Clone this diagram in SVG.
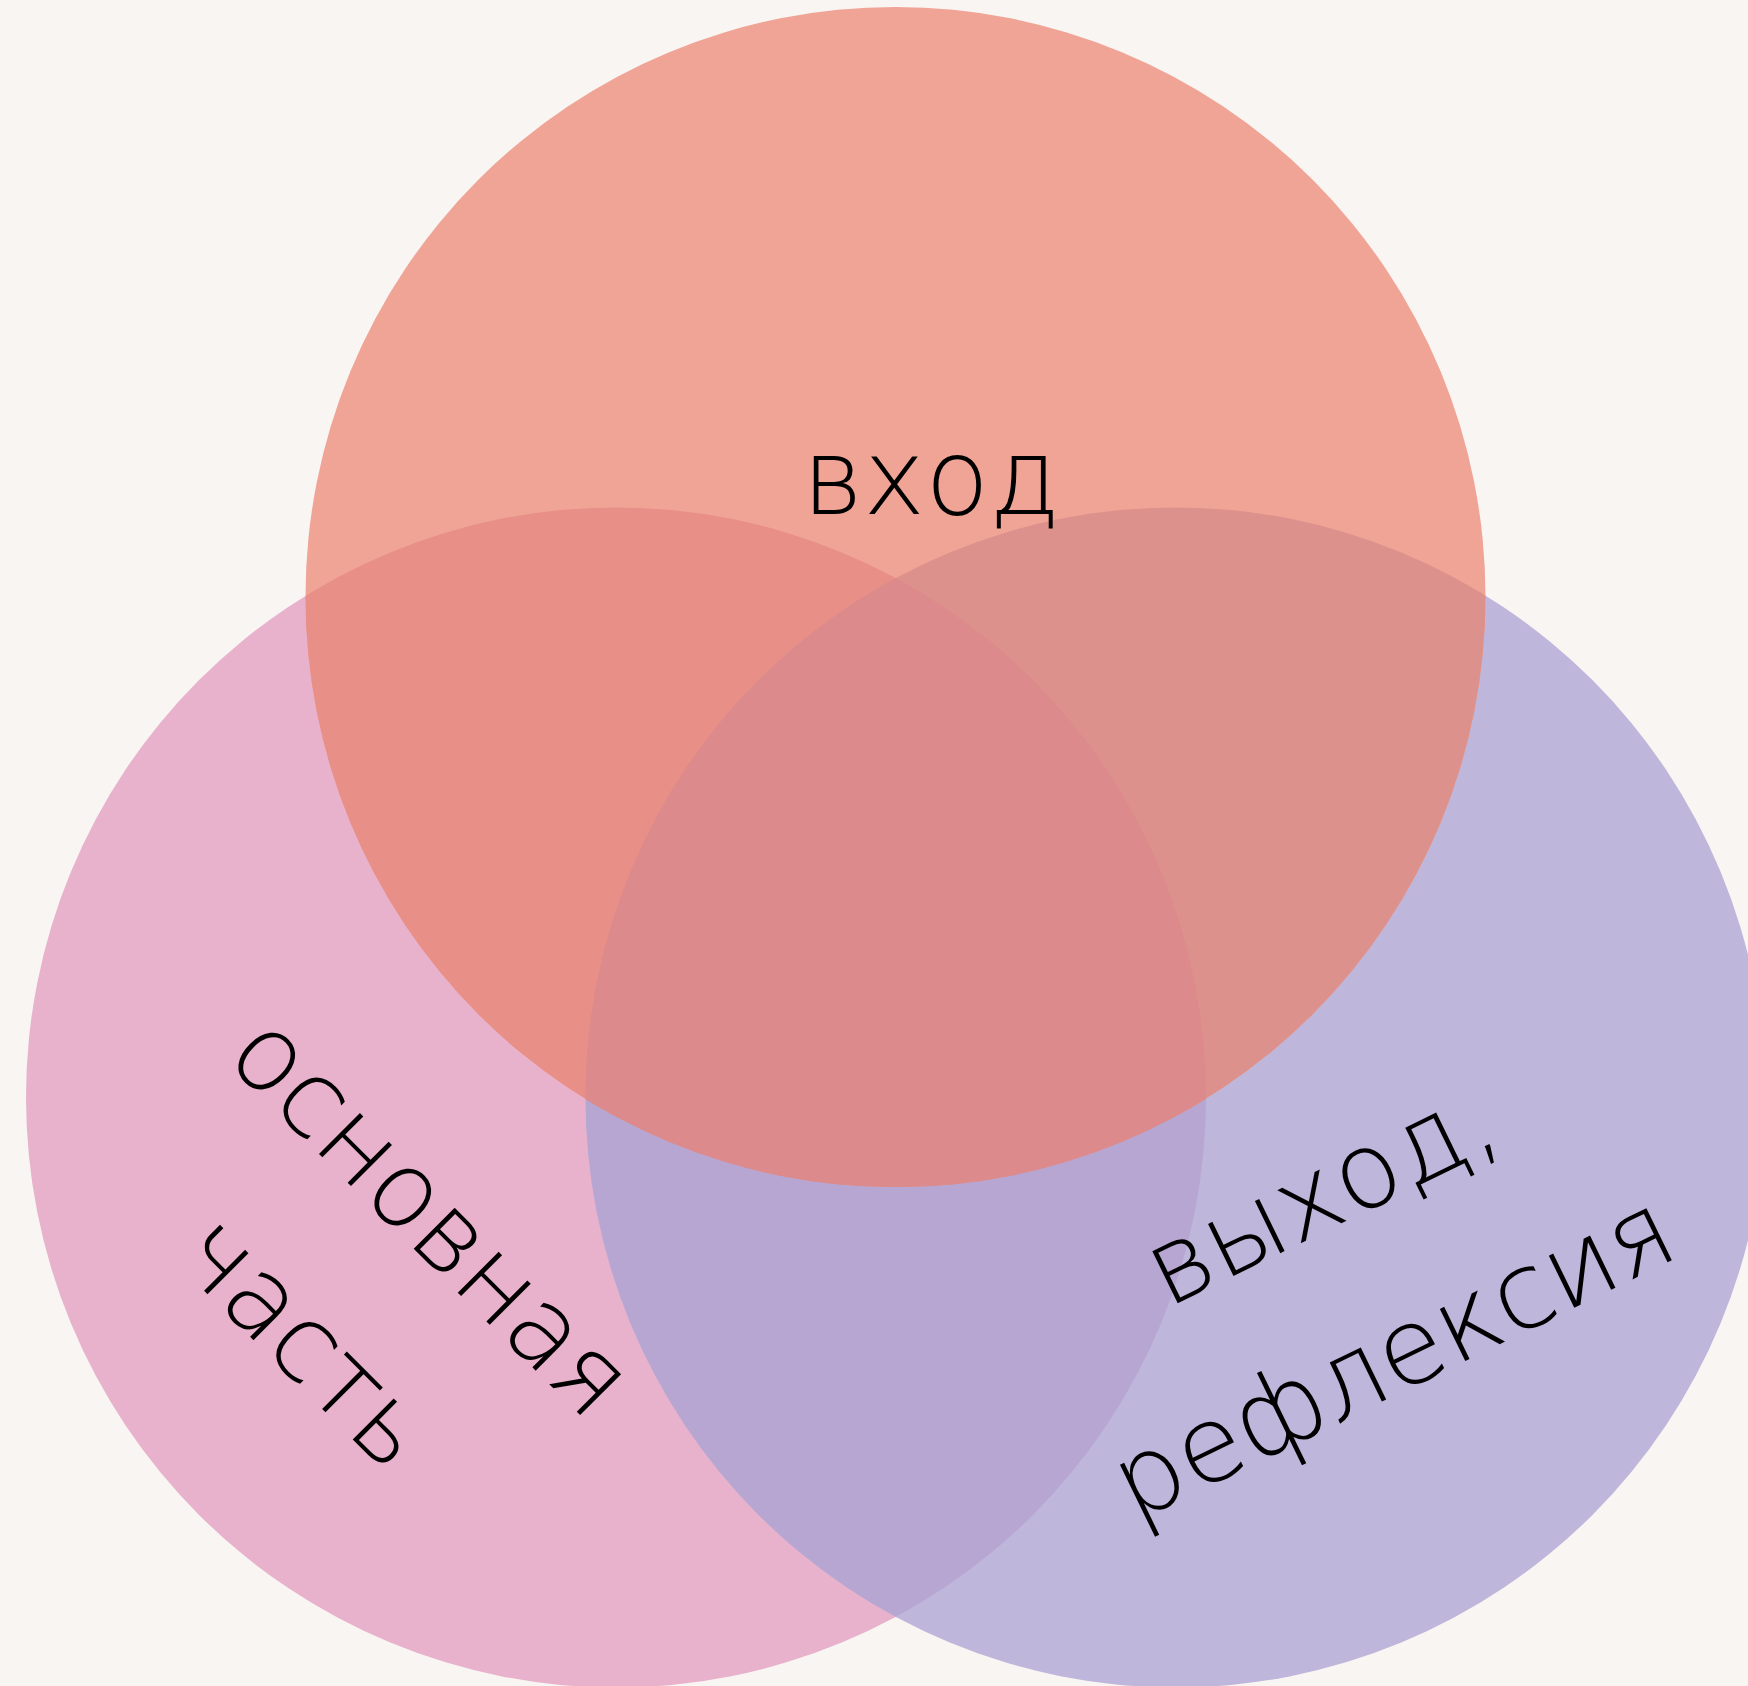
<svg xmlns="http://www.w3.org/2000/svg" width="1748" height="1686" viewBox="0 0 1748 1686">
<style>
.lbl{font-family:"DejaVu Sans","Liberation Sans",sans-serif;font-weight:200;font-size:106px;fill:#000;text-anchor:middle}
</style>
<defs>
<clipPath id="cT"><circle cx="895.5" cy="597" r="590"/></clipPath>
<clipPath id="cL"><circle cx="616" cy="1097.5" r="590"/></clipPath>
<clipPath id="cR"><circle cx="1175.5" cy="1097.5" r="590"/></clipPath>
</defs>
<rect width="1748" height="1686" fill="#F9F5F2"/>
<g id="circle-left"><circle cx="616" cy="1097.5" r="590" fill="#E8B2CC"/></g>
<g id="circle-right"><circle cx="1175.5" cy="1097.5" r="590" fill="#BEB7DB"/></g>
<g id="circle-top"><circle cx="895.5" cy="597" r="590" fill="#F0A496"/></g>
<g id="overlaps">
<g clip-path="url(#cL)"><circle cx="1175.5" cy="1097.5" r="590" fill="#B7A6D1"/></g>
<g clip-path="url(#cL)"><circle cx="895.5" cy="597" r="590" fill="#E88F88"/></g>
<g clip-path="url(#cR)"><circle cx="895.5" cy="597" r="590" fill="#DD918C"/></g>
<g clip-path="url(#cR)"><g clip-path="url(#cL)"><circle cx="895.5" cy="597" r="590" fill="#DC8A8B"/></g></g>
</g>
<g id="connectors"/>
<g id="label-vhod"><text class="lbl" x="931" y="514" textLength="258" lengthAdjust="spacingAndGlyphs">вход</text></g>
<g id="label-osnovnaya" transform="translate(406,1241) rotate(45)"><text class="lbl" x="0" y="0">основная</text><text class="lbl" x="0" y="178">часть</text></g>
<g id="label-vyhod" transform="translate(1336,1226) rotate(-26)"><text class="lbl" x="0" y="0">выход,</text><text class="lbl" x="-6" y="178">рефлексия</text></g>
</svg>
